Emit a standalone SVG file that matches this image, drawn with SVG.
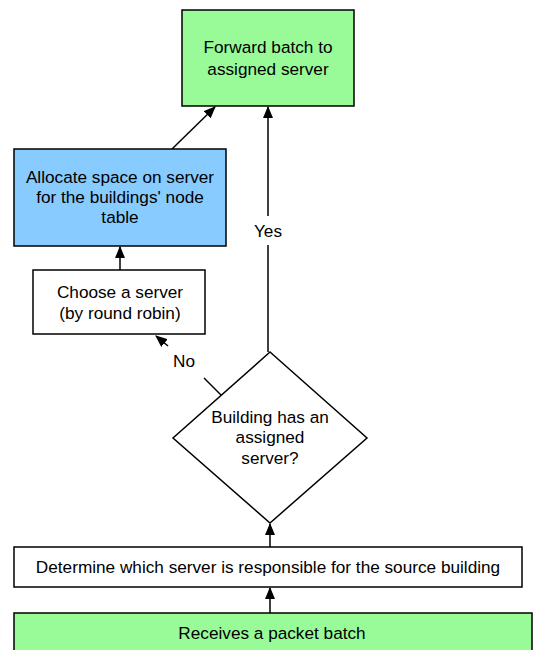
<svg xmlns="http://www.w3.org/2000/svg" width="533" height="650" viewBox="0 0 533 650">
  <style>
    .box { stroke: #000; stroke-width: 1.5; }
    .plain { fill: #fff; }
    .green { fill: #98fb98; }
    .blue { fill: #87cbff; }
    text { font-family: "Liberation Sans", Arial, sans-serif; font-size: 17.2px; fill: #000; text-anchor: middle; }
    .edge { stroke: #000; stroke-width: 1.5; fill: none; }
    .arrow { marker-end: url(#head); }
  </style>
  <defs>
    <marker id="head" viewBox="0 0 12 10" refX="11" refY="5" markerWidth="12" markerHeight="10" markerUnits="userSpaceOnUse" orient="auto">
      <path d="M0,0 L12,5 L0,10 Z" fill="#000"/>
    </marker>
  </defs>
  <rect width="533" height="650" fill="#fff"/>

  <g id="connectors">
    <!-- receive -> determine -->
    <line class="edge arrow" x1="270" y1="613" x2="270" y2="588"/>
    <!-- determine -> decision -->
    <line class="edge arrow" x1="270" y1="547" x2="270" y2="524"/>
    <!-- decision -> forward (Yes) -->
    <line class="edge" x1="268" y1="352" x2="268" y2="245"/>
    <line class="edge arrow" x1="268" y1="216" x2="268" y2="107"/>
    <text x="268" y="237">Yes</text>
    <!-- decision -> choose (No) -->
    <line class="edge" x1="222" y1="396" x2="204" y2="378"/>
    <line class="edge arrow" x1="168" y1="346" x2="156" y2="336"/>
    <text x="184" y="367">No</text>
    <!-- choose -> allocate -->
    <line class="edge arrow" x1="120" y1="270" x2="120" y2="247"/>
    <!-- allocate -> forward -->
    <line class="edge arrow" x1="172" y1="149" x2="215" y2="107"/>
  </g>

  <g id="forward">
    <rect class="box green" x="182" y="10" width="172" height="96"/>
    <text x="268" y="53">Forward batch to</text>
    <text x="268" y="75">assigned server</text>
  </g>

  <g id="allocate">
    <rect class="box blue" x="14" y="149" width="212" height="97"/>
    <text x="120" y="183">Allocate space on server</text>
    <text x="120" y="203">for the buildings' node</text>
    <text x="120" y="223">table</text>
  </g>

  <g id="choose">
    <rect class="box plain" x="33" y="270" width="172" height="64"/>
    <text x="120" y="298">Choose a server</text>
    <text x="120" y="319">(by round robin)</text>
  </g>

  <g id="decision">
    <polygon class="box plain" points="270,352 367,438 270,523 173,438"/>
    <text x="270" y="423">Building has an</text>
    <text x="270" y="443">assigned</text>
    <text x="270" y="464">server?</text>
  </g>

  <g id="determine">
    <rect class="box plain" x="14" y="547" width="508" height="40"/>
    <text x="268" y="573">Determine which server is responsible for the source building</text>
  </g>

  <g id="receive">
    <rect class="box green" x="14" y="613" width="518" height="45"/>
    <text x="272" y="639">Receives a packet batch</text>
  </g>
</svg>
